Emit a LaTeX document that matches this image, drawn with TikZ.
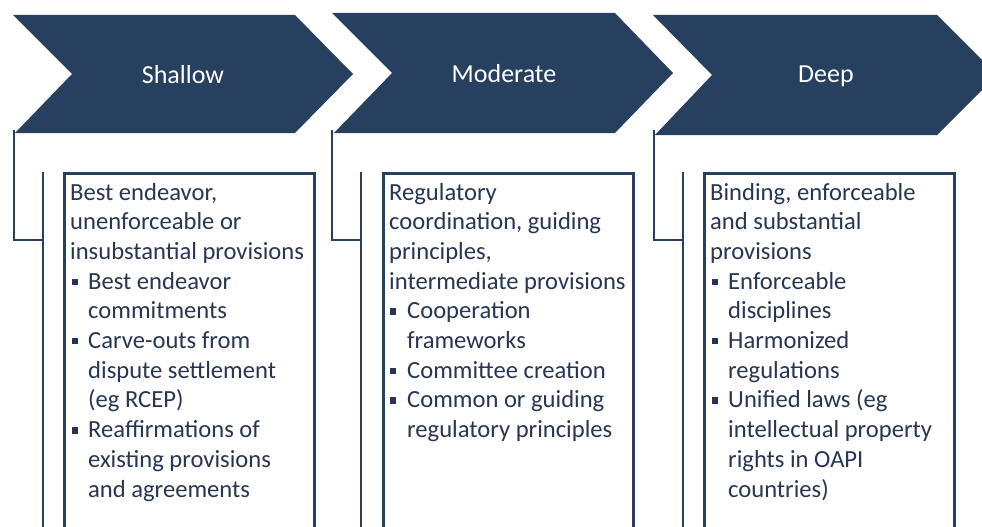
\documentclass[tikz,border=0pt]{standalone}
\usepackage{fontspec}
\setmainfont{Carlito}
\definecolor{navy}{RGB}{39,64,96}
\definecolor{bodyink}{RGB}{40,54,82}
\tikzset{
  chev/.style={fill=navy, draw=none},
  headtext/.style={text=white, font=\fontsize{26}{31}\selectfont, anchor=base, inner sep=0pt},
  bodytext/.style={text=bodyink, font=\fontsize{24.6}{29.7}\selectfont, anchor=base west, inner sep=0pt},
  bulletsq/.style={fill=bodyink, draw=none, rectangle, minimum size=6.4pt, inner sep=0pt},
  frame/.style={draw=navy, line width=2.5pt},
  textbox/.style={draw=navy, fill=white, line width=2.5pt, rectangle, anchor=north west, minimum width=250pt, minimum height=400pt, inner sep=0pt},
}
\newcommand\bodyline[4]{\node[bodytext] (#1) at (#2,{200+29.7*#3}) {#4};}
\newcommand\bulletmark[3]{\node[bulletsq] (#1) at (#2,{200+29.7*#3-7.3}) {};}
\begin{document}
\begin{tikzpicture}[x=1pt,y=-1pt]
\useasboundingbox (0,0) rectangle (982,527);
\clip (0,0) rectangle (982,527);

% ---- frames below chevrons ----
\draw[frame] (14,130) -- (14,240) -- (44,240);
\draw[frame] (43,172) -- (43,560);
\draw[frame] (332,130) -- (332,240) -- (362,240);
\draw[frame] (361,172) -- (361,560);
\draw[frame] (654,130) -- (654,240) -- (684,240);
\draw[frame] (683,172) -- (683,560);

% ---- text boxes ----
\node[textbox] (box1) at (63,172) {};
\node[textbox] (box2) at (382,172) {};
\node[textbox] (box3) at (703,172) {};

% ---- chevrons ----
\path[chev] (13,15) -- (295,15) -- (353,74) -- (295,133) -- (15,133) -- (72,74) -- cycle;
\path[chev] (332,13) -- (615,13) -- (673,73) -- (615,133) -- (334,133) -- (392,73) -- cycle;
\path[chev] (653,15) -- (937,15) -- (997,75) -- (937,135) -- (655,135) -- (712,75) -- cycle;

\node[headtext] (h1) at (183,83) {Shallow};
\node[headtext] (h2) at (504,82) {Moderate};
\node[headtext] (h3) at (826,82) {Deep};

% ---- column 1 ----
\bodyline{a0}{70}{0}{Best endeavor,}
\bodyline{a1}{70}{1}{unenforceable or}
\bodyline{a2}{70}{2}{insubstantial provisions}
\bulletmark{ab3}{75}{3}
\bodyline{a3}{88}{3}{Best endeavor}
\bodyline{a4}{88}{4}{commitments}
\bulletmark{ab5}{75}{5}
\bodyline{a5}{88}{5}{Carve-outs from}
\bodyline{a6}{88}{6}{dispute settlement}
\bodyline{a7}{88}{7}{(eg RCEP)}
\bulletmark{ab8}{75}{8}
\bodyline{a8}{88}{8}{Reaffirmations of}
\bodyline{a9}{88}{9}{existing provisions}
\bodyline{a10}{88}{10}{and agreements}

% ---- column 2 ----
\bodyline{b0}{389}{0}{Regulatory}
\bodyline{b1}{389}{1}{coordination, guiding}
\bodyline{b2}{389}{2}{principles,}
\bodyline{b3}{389}{3}{intermediate provisions}
\bulletmark{bb4}{393}{4}
\bodyline{b4}{407}{4}{Cooperation}
\bodyline{b5}{407}{5}{frameworks}
\bulletmark{bb6}{393}{6}
\bodyline{b6}{407}{6}{Committee creation}
\bulletmark{bb7}{393}{7}
\bodyline{b7}{407}{7}{Common or guiding}
\bodyline{b8}{407}{8}{regulatory principles}

% ---- column 3 ----
\bodyline{c0}{710}{0}{Binding, enforceable}
\bodyline{c1}{710}{1}{and substantial}
\bodyline{c2}{710}{2}{provisions}
\bulletmark{cb3}{715}{3}
\bodyline{c3}{728}{3}{Enforceable}
\bodyline{c4}{728}{4}{disciplines}
\bulletmark{cb5}{715}{5}
\bodyline{c5}{728}{5}{Harmonized}
\bodyline{c6}{728}{6}{regulations}
\bulletmark{cb7}{715}{7}
\bodyline{c7}{728}{7}{Unified laws (eg}
\bodyline{c8}{728}{8}{intellectual property}
\bodyline{c9}{728}{9}{rights in OAPI}
\bodyline{c10}{728}{10}{countries)}
\end{tikzpicture}
\end{document}
